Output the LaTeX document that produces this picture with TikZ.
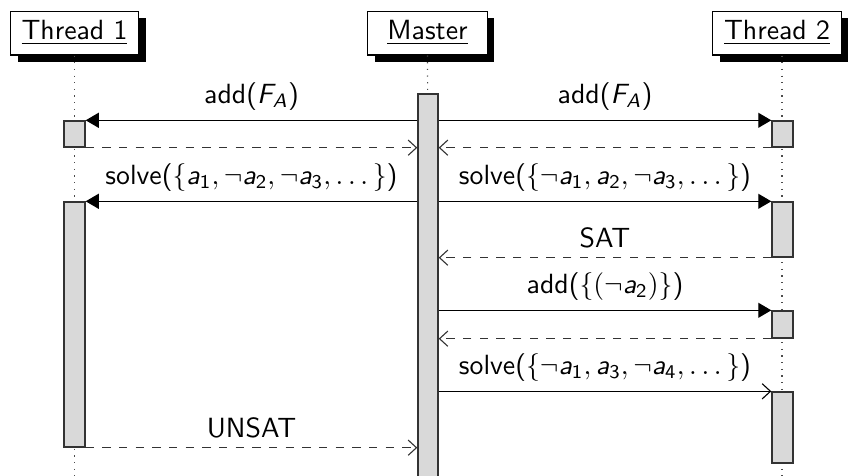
\documentclass[tikz,border=0pt]{standalone}
\usetikzlibrary{shadows,fit,arrows.meta}
\newcommand{\va}[1]{\mbox{\itshape a}_{\mbox{\scriptsize#1}}}
\newcommand{\fa}{\mbox{\itshape F}_{\mbox{\scriptsize\itshape A}}}
\begin{document}
\begin{tikzpicture}[x=0.36pt,y=-0.36pt,font=\sffamily]
  \tikzstyle{head}=[draw,fill=white,minimum width=43pt,minimum height=15.8pt,inner xsep=4pt,
    drop shadow={shadow xshift=2.6pt,shadow yshift=-2.6pt,fill=black,opacity=1}]
  \tikzstyle{bar}=[draw=black!80,fill=black!15,inner sep=0pt,line width=0.5pt]
  \tikzstyle{life}=[dotted,black!70]
  \tikzstyle{call}=[-{Triangle[length=4.7pt,width=5.4pt]}]
  \tikzstyle{async}=[-{Straight Barb[length=3pt,width=5.5pt]}]
  \tikzstyle{ret}=[dashed,draw=black!80,-{Straight Barb[length=3pt,width=5.5pt]}]
  \useasboundingbox (0,0) rectangle (850,476);
  \node[head] (t1) at (74.5,33) {\underline{Thread 1}};
  \node[head] (ms) at (427.5,33) {\underline{Master}};
  \node[head] (t2) at (777,33) {\underline{Thread 2}};
  \coordinate (e1) at (74.5,476);
  \coordinate (em) at (428,476);
  \coordinate (e2) at (782,476);
  \draw[life] (t1) -- (e1);
  \draw[life] (ms) -- (em);
  \draw[life] (t2.south -| e2) -- (e2);
  \node[bar,fit={(418,94) (438,480)}] (m) {};
  \node[bar,fit={(64,121) (85,147)}] (t1a) {};
  \node[bar,fit={(772,121) (793,147)}] (t2a) {};
  \node[bar,fit={(64,202) (85,447)}] (t1b) {};
  \node[bar,fit={(772,202) (793,257)}] (t2b) {};
  \node[bar,fit={(772,311) (793,338)}] (t2c) {};
  \node[bar,fit={(772,392) (793,463)}] (t2d) {};
  \draw[call] (m.west |- t1a.north) -- node[above]{add($\fa$)} (t1a.north east);
  \draw[call] (m.east |- t2a.north) -- node[above]{add($\fa$)} (t2a.north west);
  \draw[ret] (t1a.south east) -- (m.west |- t1a.south);
  \draw[ret] (t2a.south west) -- (m.east |- t2a.south);
  \draw[call] (m.west |- t1b.north) -- node[above]{solve($\{\va1, \neg\va2, \neg\va3, \ldots\,\}$)} (t1b.north east);
  \draw[call] (m.east |- t2b.north) -- node[above]{solve($\{\neg\va1, \va2, \neg\va3, \ldots\,\}$)} (t2b.north west);
  \draw[ret] (t2b.south west) -- node[above]{SAT} (m.east |- t2b.south);
  \draw[call] (m.east |- t2c.north) -- node[above]{add($\{(\neg\va2)\}$)} (t2c.north west);
  \draw[ret] (t2c.south west) -- (m.east |- t2c.south);
  \draw[async] (m.east |- t2d.north) -- node[above]{solve($\{\neg\va1, \va3, \neg\va4, \ldots\,\}$)} (t2d.north west);
  \draw[ret] (t1b.south east) -- node[above]{UNSAT} (m.west |- t1b.south);
\end{tikzpicture}
\end{document}
